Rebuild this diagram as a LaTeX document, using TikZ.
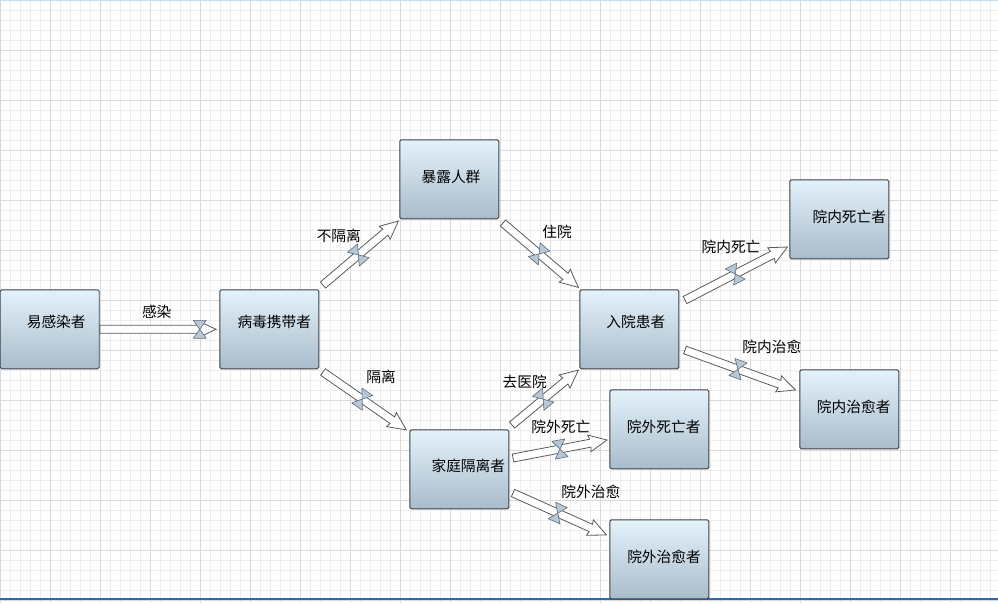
\documentclass[tikz,border=0pt]{standalone}
\usepackage{fontspec}
\newfontfamily\cjk{Noto Sans CJK SC}
\definecolor{gridminor}{HTML}{EDEDED}
\definecolor{gridmajor}{HTML}{DADADA}
\definecolor{boxtop}{HTML}{E4F2FB}
\definecolor{boxbot}{HTML}{A9BCCB}
\definecolor{boxline}{HTML}{3A3F45}
\definecolor{pipeline}{HTML}{5A5A5A}
\definecolor{valvefill}{HTML}{B6C8D6}
\definecolor{valveline}{HTML}{5E6C7A}
\definecolor{bottomline}{HTML}{2A6BAE}
\definecolor{topline}{HTML}{C8DCEC}
\newdimen\fpxa \newdimen\fpya \newdimen\fpxb \newdimen\fpyb
\newcommand\flowpipe[3]{%
  \pgfextractx{\fpxa}{\pgfpointanchor{#1}{center}}%
  \pgfextracty{\fpya}{\pgfpointanchor{#1}{center}}%
  \pgfextractx{\fpxb}{\pgfpointanchor{#2}{center}}%
  \pgfextracty{\fpyb}{\pgfpointanchor{#2}{center}}%
  \pgfmathsetmacro\fpang{atan2(\fpyb-\fpya,\fpxb-\fpxa)}%
  \pgfmathsetmacro\fplen{veclen(\fpxb-\fpxa,\fpyb-\fpya)}%
  \pgfmathsetmacro\fpv{#3*\fplen}%
  \pgfmathsetmacro\fph{\fplen-17}%
  \begin{scope}[shift={(#1)},rotate=\fpang]
    \draw[pipe] (0,4) -- (\fph,4) -- (\fph-1,8.5) -- (\fplen,0) -- (\fph-1,-8.5) -- (\fph,-4) -- (0,-4) -- cycle;
    \draw[valve] (\fpv,0) -- (\fpv-6.5,9) -- (\fpv+6.5,9) -- cycle;
    \draw[valve] (\fpv,0) -- (\fpv-6.5,-9) -- (\fpv+6.5,-9) -- cycle;
  \end{scope}}
\tikzset{
  pipe/.style={draw=pipeline, fill=white, line width=0.8pt, line join=miter},
  valve/.style={draw=valveline, fill=valvefill, line width=0.6pt, line join=round},
  box/.style 2 args={draw=boxline, line width=0.9pt, rounded corners=1.5pt,
    top color=boxtop, bottom color=boxbot, minimum width=99pt, minimum height=79pt,
    inner sep=0pt, font=\cjk\fontsize{14.7}{17}\selectfont,
    text height=12pt, text depth=#2, execute at begin node={\hspace*{#1}}},
  lab/.style={font=\cjk\fontsize{14.7}{17}\selectfont, inner sep=0pt},
  minorline/.style={draw=gridminor, line width=0.8pt},
  majorline/.style={draw=gridmajor, line width=0.8pt}
}
\begin{document}
\begin{tikzpicture}[x=1pt,y=-1pt]
\useasboundingbox (0,0) rectangle (998,603);
% grid
\foreach \x in {10,20,...,990} \draw[minorline] (\x,0) -- (\x,603);
\foreach \y in {10,20,...,600} \draw[minorline] (0,\y) -- (998,\y);
\foreach \x in {50,100,...,950} \draw[majorline] (\x,0) -- (\x,603);
\foreach \y in {50,100,...,600} \draw[majorline] (0,\y) -- (998,\y);
\draw[topline, line width=1pt] (0,0.5) -- (998,0.5);
\draw[topline, line width=1pt] (0.5,0) -- (0.5,603);
\draw[bottomline, line width=1.8pt] (0,599.3) -- (998,599.3);
% boxes
\node[box={13pt}{14.8pt}] (n1) at (49.7,329.3) {易感染者};
\node[box={10pt}{14.8pt}] (n2) at (269.3,329.3) {病毒携带者};
\node[box={3.4pt}{6pt}] (n3) at (449.3,179.3) {暴露人群};
\node[box={13pt}{14.8pt}] (n4) at (629.3,329.3) {入院患者};
\node[box={18pt}{7.4pt}] (n5) at (459.3,469.3) {家庭隔离者};
\node[box={8.8pt}{6pt}] (n6) at (659.3,429.3) {院外死亡者};
\node[box={9.4pt}{4.8pt}] (n7) at (659.3,559.3) {院外治愈者};
\node[box={20pt}{6pt}] (n8) at (839.3,219.3) {院内死亡者};
\node[box={8.8pt}{6pt}] (n9) at (849.3,409.3) {院内治愈者};
% pipe end points
\coordinate (a1s) at (100,329.3); \coordinate (a1e) at (216,329.3);
\coordinate (a2s) at (323,285); \coordinate (a2e) at (398.5,221);
\coordinate (a3s) at (503,223); \coordinate (a3e) at (578.5,287.5);
\coordinate (a4s) at (323,372); \coordinate (a4e) at (406.5,430);
\coordinate (a5s) at (512,425); \coordinate (a5e) at (578.5,370);
\coordinate (a6s) at (513,458); \coordinate (a6e) at (607,440);
\coordinate (a7s) at (513,493); \coordinate (a7e) at (606.5,535);
\coordinate (a8s) at (685,300); \coordinate (a8e) at (787.5,247);
\coordinate (a9s) at (685,350); \coordinate (a9e) at (795.5,390);
\flowpipe{a1s}{a1e}{0.86}
\flowpipe{a2s}{a2e}{0.47}
\flowpipe{a3s}{a3e}{0.48}
\flowpipe{a4s}{a4e}{0.47}
\flowpipe{a5s}{a5e}{0.47}
\flowpipe{a6s}{a6e}{0.5}
\flowpipe{a7s}{a7e}{0.48}
\flowpipe{a8s}{a8e}{0.49}
\flowpipe{a9s}{a9e}{0.48}
% labels
\node[lab] (l1) at (156.7,312.3) {感染};
\node[lab] (l2) at (338.8,236) {不隔离};
\node[lab] (l3) at (557,231.7) {住院};
\node[lab] (l4) at (381,376.5) {隔离};
\node[lab] (l5) at (524.7,381.7) {去医院};
\node[lab] (l6) at (560.8,426.7) {院外死亡};
\node[lab] (l7) at (590.8,491.7) {院外治愈};
\node[lab] (l8) at (731,246.7) {院内死亡};
\node[lab] (l9) at (771.8,346.7) {院内治愈};
\end{tikzpicture}
\end{document}
